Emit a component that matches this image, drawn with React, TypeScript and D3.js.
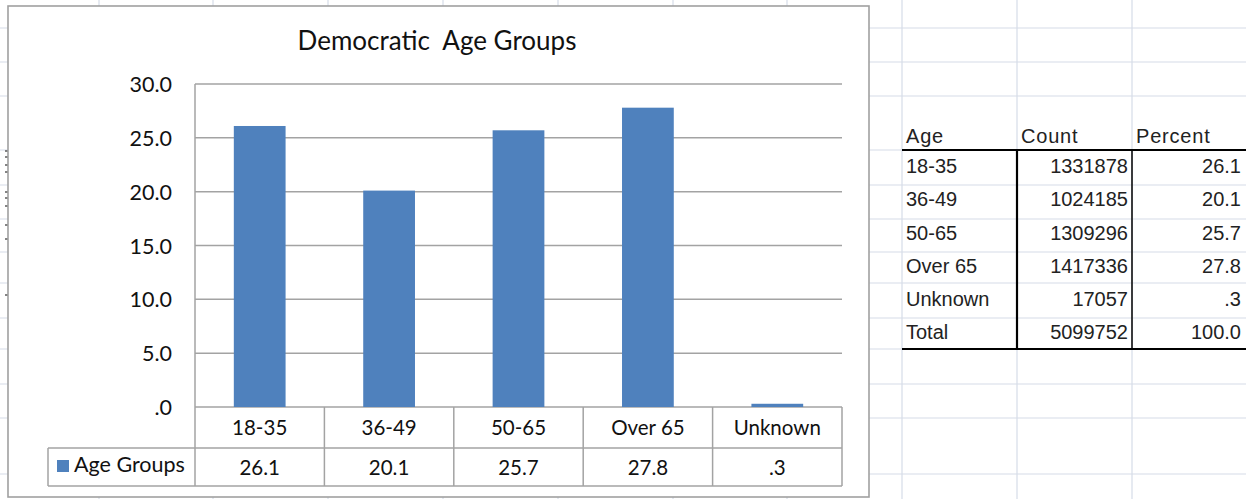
import React from "react";
import * as d3 from "d3";

const categories = ["18-35", "36-49", "50-65", "Over 65", "Unknown"];
const values = [26.1, 20.1, 25.7, 27.8, 0.3];
const valueLabels = ["26.1", "20.1", "25.7", "27.8", ".3"];
const yTicks = [0, 5, 10, 15, 20, 25, 30];
const yTickLabels = [".0", "5.0", "10.0", "15.0", "20.0", "25.0", "30.0"];
const seriesName = "Age Groups";
const chartTitle = "Democratic  Age Groups";

const tableHeaders = ["Age", "Count", "Percent"];
const tableAges = ["18-35", "36-49", "50-65", "Over 65", "Unknown", "Total"];
const tableCounts = ["1331878", "1024185", "1309296", "1417336", "17057", "5099752"];
const tablePercents = ["26.1", "20.1", "25.7", "27.8", ".3", "100.0"];

const W = 1246;
const H = 499;
const sheetCols = [99, 213, 328, 443, 558, 673, 787, 902, 1017, 1132];
const sheetRows = [28, 62, 96, 150, 185, 219, 252, 283, 318, 349, 384, 418, 474];
const leftMarks = [151, 157, 165, 172, 192, 198, 206, 225, 239, 295];

const CHART = { x: 8, y: 6, w: 861, h: 491 };
const PLOT = { left: 195, right: 842, top: 84, bottom: 407 };
const ROW1 = 448;
const ROW2 = 486;
const LEGEND_LEFT = 48;

const BLUE = "#4f81bd";
const GRID = "#a3a3a3";
const SHEET = "#d6dce8";
const FONT = "Lato, 'Open Sans', sans-serif";
const SHEET_FONT = "'Liberation Sans', Arial, sans-serif";

export default function App() {
  const x = d3
    .scaleBand<string>()
    .domain(categories)
    .range([PLOT.left, PLOT.right])
    .paddingInner(0.6)
    .paddingOuter(0.3);
  const col = d3.scaleBand<string>().domain(categories).range([PLOT.left, PLOT.right]).padding(0);
  const y = d3.scaleLinear().domain([0, 30]).range([PLOT.bottom, PLOT.top]);

  const tRow = d3.scaleBand<string>().domain(tableAges).range([150, 349]);
  const tCol = [902, 1017, 1132, 1246];

  return (
    <svg
      width={W}
      height={H}
      style={{ position: "absolute", left: 0, top: 0, background: "#fff" }}
    >
      {/* spreadsheet background grid */}
      {sheetCols.map((c) => (
        <line key={"c" + c} x1={c} x2={c} y1={0} y2={H} stroke={SHEET} strokeWidth={1.2} />
      ))}
      {sheetRows.map((r) => (
        <line key={"r" + r} x1={0} x2={W} y1={r} y2={r} stroke={SHEET} strokeWidth={1.2} />
      ))}
      {leftMarks.map((m) => (
        <line key={"m" + m} x1={5} x2={8} y1={m} y2={m} stroke="#333" strokeWidth={1.2} />
      ))}

      {/* spreadsheet table */}
      {tableHeaders.map((h, i) => (
        <text key={h} x={tCol[i] + 4} y={143} fontFamily={SHEET_FONT} fontSize={20} fill="#222" letterSpacing={0.8}>
          {h}
        </text>
      ))}
      {tableAges.map((a, i) => {
        const yb = (tRow(a) as number) + tRow.bandwidth() - 10;
        return (
          <g key={a}>
            <text x={tCol[0] + 4} y={yb} fontFamily={SHEET_FONT} fontSize={20} fill="#222">
              {a}
            </text>
            <text x={tCol[2] - 4} y={yb} textAnchor="end" fontFamily={SHEET_FONT} fontSize={20} fill="#222">
              {tableCounts[i]}
            </text>
            <text x={tCol[3] - 5} y={yb} textAnchor="end" fontFamily={SHEET_FONT} fontSize={20} fill="#222">
              {tablePercents[i]}
            </text>
          </g>
        );
      })}
      <line x1={902} x2={W} y1={150} y2={150} stroke="#000" strokeWidth={2.2} />
      <line x1={902} x2={W} y1={349} y2={349} stroke="#000" strokeWidth={2.2} />
      <line x1={1017} x2={1017} y1={150} y2={349} stroke="#000" strokeWidth={2.2} />
      <line x1={1132} x2={1132} y1={150} y2={349} stroke="#000" strokeWidth={1.5} />

      {/* chart area */}
      <rect x={CHART.x} y={CHART.y} width={CHART.w} height={CHART.h} fill="#fff" stroke="#a0a0a0" strokeWidth={1.6} />
      <text x={437} y={50} textAnchor="middle" fontFamily={FONT} fontSize={26} fill="#111" style={{ whiteSpace: "pre" }}>
        {chartTitle}
      </text>

      {/* gridlines */}
      {yTicks.map((t, i) => (
        <g key={t}>
          <line x1={PLOT.left} x2={PLOT.right} y1={y(t)} y2={y(t)} stroke={GRID} strokeWidth={1.5} />
          <text x={172} y={y(t) + 8} textAnchor="end" fontFamily={FONT} fontSize={21.5} fill="#111">
            {yTickLabels[i]}
          </text>
        </g>
      ))}
      <line x1={PLOT.left} x2={PLOT.left} y1={PLOT.top} y2={ROW2} stroke={GRID} strokeWidth={1.5} />

      {/* bars */}
      {categories.map((c, i) => (
        <rect
          key={c}
          x={x(c)}
          y={y(values[i])}
          width={x.bandwidth()}
          height={y(0) - y(values[i])}
          fill={BLUE}
        />
      ))}

      {/* data table */}
      <line x1={LEGEND_LEFT} x2={PLOT.right} y1={ROW1} y2={ROW1} stroke={GRID} strokeWidth={1.5} />
      <line x1={LEGEND_LEFT} x2={PLOT.right} y1={ROW2} y2={ROW2} stroke={GRID} strokeWidth={1.5} />
      <line x1={LEGEND_LEFT} x2={LEGEND_LEFT} y1={ROW1} y2={ROW2} stroke={GRID} strokeWidth={1.5} />
      {categories.map((c, i) => (
        <g key={"t" + c}>
          <line
            x1={(col(c) as number) + col.bandwidth()}
            x2={(col(c) as number) + col.bandwidth()}
            y1={PLOT.bottom}
            y2={ROW2}
            stroke={GRID}
            strokeWidth={1.5}
          />
          <text
            x={(col(c) as number) + col.bandwidth() / 2}
            y={435}
            textAnchor="middle"
            fontFamily={FONT}
            fontSize={20.5}
            fill="#111"
          >
            {c}
          </text>
          <text
            x={(col(c) as number) + col.bandwidth() / 2}
            y={475}
            textAnchor="middle"
            fontFamily={FONT}
            fontSize={20.5}
            fill="#111"
          >
            {valueLabels[i]}
          </text>
        </g>
      ))}
      <rect x={57} y={460} width={12} height={12} fill={BLUE} />
      <text x={74} y={472} fontFamily={FONT} fontSize={21.5} fill="#111">
        {seriesName}
      </text>
    </svg>
  );
}
